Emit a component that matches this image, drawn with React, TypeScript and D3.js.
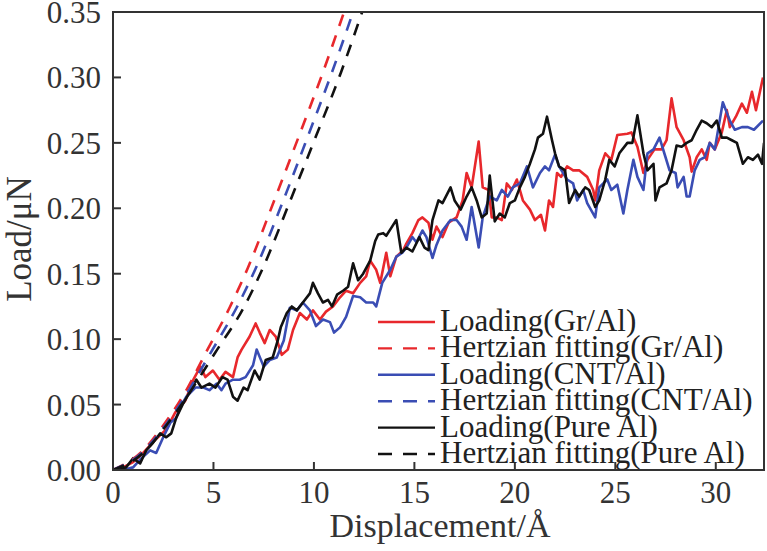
import React from "react";
import * as d3 from "d3";

type Pt = [number, number];

const xTicks = [0, 5, 10, 15, 20, 25, 30];
const yTicks = [0, 0.05, 0.1, 0.15, 0.2, 0.25, 0.3, 0.35];

const loadingGrAl: Pt[] = [
  [0,0],[0.5,0.002],[1.0,0.006],[1.5,0.013],[2.1,0.023],[2.65,0.031],[3.1,0.044],[3.6,0.053],[4.0,0.069],[4.35,0.079],[4.6,0.071],[4.97,0.076],[5.3,0.069],[5.6,0.075],[5.97,0.071],[6.2,0.086],[6.4,0.092],[6.8,0.102],[7.1,0.112],[7.3,0.105],[7.55,0.097],[7.8,0.107],[8.1,0.102],[8.4,0.088],[8.7,0.092],[8.96,0.107],[9.3,0.12],[9.65,0.115],[9.95,0.122],[10.3,0.115],[10.6,0.121],[10.95,0.125],[11.3,0.132],[11.6,0.137],[11.95,0.135],[12.3,0.143],[12.6,0.148],[12.8,0.16],[13.1,0.153],[13.3,0.143],[13.6,0.166],[13.8,0.148],[14.1,0.163],[14.45,0.168],[14.6,0.173],[14.9,0.181],[15.2,0.191],[15.4,0.193],[15.7,0.189],[15.9,0.176],[16.1,0.186],[16.4,0.178],[16.7,0.189],[17.1,0.193],[17.4,0.206],[17.6,0.227],[17.85,0.216],[18.2,0.251],[18.4,0.216],[18.7,0.214],[18.85,0.193],[19.1,0.193],[19.35,0.191],[19.6,0.219],[19.85,0.214],[20.1,0.222],[20.4,0.206],[20.75,0.199],[21.0,0.191],[21.3,0.195],[21.5,0.183],[21.7,0.206],[21.9,0.201],[22.1,0.227],[22.3,0.224],[22.6,0.232],[22.9,0.229],[23.2,0.229],[23.6,0.224],[23.9,0.214],[24.0,0.206],[24.2,0.229],[24.5,0.242],[24.8,0.237],[25.1,0.256],[25.6,0.257],[25.8,0.258],[26.1,0.247],[26.4,0.227],[26.6,0.237],[26.95,0.245],[27.3,0.245],[27.55,0.252],[27.8,0.284],[28.05,0.262],[28.4,0.252],[28.7,0.239],[28.8,0.228],[29.05,0.239],[29.3,0.245],[29.55,0.237],[29.7,0.25],[29.95,0.245],[30.3,0.258],[30.55,0.275],[30.7,0.262],[31.0,0.27],[31.3,0.28],[31.55,0.273],[31.8,0.289],[32.0,0.275],[32.35,0.3]
];

const loadingCntAl: Pt[] = [
  [0,0],[0.5,0],[1.0,0.002],[1.35,0.008],[1.85,0.015],[2.15,0.013],[2.5,0.025],[2.85,0.036],[3.15,0.04],[3.35,0.048],[3.65,0.056],[4.1,0.063],[4.5,0.063],[4.8,0.061],[5.15,0.066],[5.4,0.061],[5.6,0.066],[5.97,0.069],[6.3,0.069],[6.6,0.071],[6.97,0.08],[7.15,0.092],[7.5,0.079],[7.8,0.084],[8.15,0.086],[8.5,0.099],[8.8,0.124],[9.15,0.122],[9.45,0.128],[9.8,0.122],[10.1,0.11],[10.45,0.115],[10.8,0.113],[11.0,0.105],[11.3,0.109],[11.6,0.117],[11.95,0.133],[12.3,0.132],[12.6,0.128],[12.95,0.128],[13.1,0.125],[13.4,0.143],[13.8,0.153],[14.1,0.163],[14.4,0.166],[14.6,0.17],[14.9,0.178],[15.1,0.174],[15.4,0.183],[15.6,0.178],[15.9,0.162],[16.1,0.172],[16.4,0.183],[16.8,0.191],[17.1,0.191],[17.35,0.186],[17.6,0.176],[17.85,0.201],[18.2,0.17],[18.4,0.193],[18.75,0.209],[19.1,0.206],[19.35,0.214],[19.65,0.209],[19.9,0.216],[20.25,0.219],[20.6,0.232],[20.9,0.216],[21.25,0.227],[21.5,0.232],[21.7,0.229],[22.0,0.241],[22.2,0.232],[22.6,0.222],[22.9,0.219],[23.1,0.206],[23.4,0.214],[23.6,0.204],[24.0,0.193],[24.2,0.216],[24.6,0.222],[24.8,0.214],[25.1,0.218],[25.4,0.196],[25.6,0.214],[25.9,0.237],[26.1,0.224],[26.4,0.214],[26.6,0.242],[26.9,0.245],[27.2,0.254],[27.5,0.239],[27.7,0.229],[28.0,0.227],[28.1,0.216],[28.4,0.224],[28.55,0.209],[28.7,0.209],[28.95,0.229],[29.2,0.237],[29.45,0.239],[29.7,0.25],[29.95,0.245],[30.35,0.281],[30.7,0.267],[30.95,0.26],[31.3,0.262],[31.6,0.262],[31.9,0.26],[32.35,0.267]
];

const loadingPureAl: Pt[] = [
  [0,0],[0.65,0.002],[1.0,0.009],[1.35,0.005],[1.65,0.015],[2.0,0.021],[2.35,0.028],[2.65,0.025],[2.9,0.028],[3.15,0.04],[3.5,0.051],[3.8,0.059],[4.15,0.069],[4.4,0.063],[4.8,0.066],[5.1,0.063],[5.45,0.071],[5.7,0.069],[5.97,0.056],[6.2,0.053],[6.5,0.063],[6.7,0.061],[7.05,0.076],[7.3,0.069],[7.6,0.084],[7.95,0.086],[8.2,0.099],[8.35,0.109],[8.65,0.12],[8.9,0.125],[9.15,0.122],[9.45,0.128],[9.8,0.135],[9.95,0.143],[10.2,0.135],[10.45,0.128],[10.7,0.13],[10.9,0.125],[11.15,0.134],[11.45,0.137],[11.7,0.14],[11.95,0.158],[12.2,0.145],[12.45,0.15],[12.8,0.16],[13.05,0.175],[13.2,0.18],[13.45,0.181],[13.6,0.179],[13.85,0.185],[14.1,0.191],[14.35,0.166],[14.6,0.17],[14.9,0.167],[15.25,0.178],[15.5,0.17],[15.7,0.168],[15.9,0.191],[16.2,0.206],[16.4,0.204],[16.8,0.216],[17.0,0.206],[17.3,0.199],[17.6,0.209],[17.85,0.216],[18.1,0.206],[18.35,0.193],[18.6,0.196],[18.75,0.225],[19.0,0.19],[19.25,0.196],[19.5,0.193],[19.75,0.204],[20.0,0.206],[20.25,0.216],[20.5,0.224],[20.75,0.234],[21.0,0.245],[21.15,0.254],[21.4,0.257],[21.6,0.27],[21.85,0.252],[22.0,0.242],[22.2,0.232],[22.5,0.229],[22.7,0.204],[23.0,0.214],[23.2,0.209],[23.5,0.216],[23.7,0.214],[24.0,0.201],[24.2,0.206],[24.5,0.222],[24.7,0.237],[24.97,0.232],[25.2,0.242],[25.6,0.25],[25.85,0.25],[26.1,0.271],[26.4,0.242],[26.6,0.229],[26.9,0.234],[27.0,0.206],[27.2,0.216],[27.55,0.219],[27.8,0.229],[28.05,0.248],[28.3,0.247],[28.55,0.25],[28.8,0.252],[29.05,0.26],[29.3,0.267],[29.55,0.265],[29.8,0.262],[30.05,0.267],[30.3,0.254],[30.55,0.254],[30.8,0.252],[31.05,0.25],[31.35,0.234],[31.6,0.239],[31.85,0.237],[32.1,0.241],[32.3,0.234],[32.4,0.25]
];

const hertzGrAl: Pt[] = [
  [0,0],[1.5,0.015],[2.5,0.034],[3.5,0.057],[4.6,0.089],[5.8,0.124],[6.7,0.154],[8.0,0.205],[9.25,0.255],[10.45,0.304],[11.5,0.35]
];
const hertzCntAl: Pt[] = [
  [0,0],[1.5,0.014],[2.5,0.032],[3.5,0.054],[4.8,0.088],[6.15,0.124],[7.1,0.154],[8.45,0.205],[9.7,0.255],[10.9,0.304],[11.95,0.35]
];
const hertzPureAl: Pt[] = [
  [0,0],[1.5,0.013],[2.5,0.031],[3.5,0.052],[5.1,0.09],[6.5,0.124],[7.45,0.154],[8.8,0.205],[10.1,0.255],[11.35,0.304],[12.4,0.35]
];

const RED = "#e8282c";
const BLUE = "#3a4db4";
const BLACK = "#111111";

const seriesList = [
  { label: "Loading(Gr/Al)", data: loadingGrAl, color: RED, dashed: false },
  { label: "Hertzian fitting(Gr/Al)", data: hertzGrAl, color: RED, dashed: true },
  { label: "Loading(CNT/Al)", data: loadingCntAl, color: BLUE, dashed: false },
  { label: "Hertzian fitting(CNT/Al)", data: hertzCntAl, color: BLUE, dashed: true },
  { label: "Loading(Pure Al)", data: loadingPureAl, color: BLACK, dashed: false },
  { label: "Hertzian fitting(Pure Al)", data: hertzPureAl, color: BLACK, dashed: true },
];

const W = 767;
const H = 551;
const M = { left: 113, right: 764, top: 12, bottom: 470 };
const FONT = "'Liberation Serif', 'Times New Roman', serif";

export default function App() {
  const x = d3.scaleLinear().domain([0, 32.4]).range([M.left, M.right]);
  const y = d3.scaleLinear().domain([0, 0.35]).range([M.bottom, M.top]);
  const solid = d3.line<Pt>().x((d) => x(d[0])).y((d) => y(d[1]));
  const smooth = d3
    .line<Pt>()
    .x((d) => x(d[0]))
    .y((d) => y(d[1]))
    .curve(d3.curveMonotoneX);

  const drawOrder = [0, 2, 4, 1, 3, 5];
  const legendX1 = 378;
  const legendX2 = 435;
  const legendY0 = 322;
  const legendStep = 26.4;

  return (
    <svg
      width={W}
      height={H}
      style={{ position: "absolute", left: 0, top: 0, background: "#fff" }}
      fontFamily={FONT}
    >
      <defs>
        <clipPath id="plot">
          <rect x={M.left} y={M.top} width={M.right - M.left} height={M.bottom - M.top} />
        </clipPath>
      </defs>
      <g clipPath="url(#plot)">
        {drawOrder.map((i) => {
          const s = seriesList[i];
          return (
            <path
              key={s.label}
              d={(s.dashed ? smooth(s.data) : solid(s.data)) || ""}
              fill="none"
              stroke={s.color}
              strokeWidth={2.6}
              strokeDasharray={s.dashed ? "12 10" : undefined}
              strokeLinejoin="round"
            />
          );
        })}
      </g>
      <rect
        x={M.left}
        y={M.top}
        width={M.right - M.left}
        height={M.bottom - M.top}
        fill="none"
        stroke="#333"
        strokeWidth={2}
      />
      {yTicks.map((t) => (
        <g key={"y" + t}>
          <line x1={M.left} x2={M.left + 8} y1={y(t)} y2={y(t)} stroke="#333" strokeWidth={2} />
          <text x={101} y={y(t) + 11} textAnchor="end" fontSize={31} fill="#333">
            {t.toFixed(2)}
          </text>
        </g>
      ))}
      {xTicks.map((t) => (
        <g key={"x" + t}>
          <line x1={x(t)} x2={x(t)} y1={M.bottom} y2={M.bottom - 8} stroke="#333" strokeWidth={2} />
          <text x={x(t)} y={503} textAnchor="middle" fontSize={31} fill="#333">
            {t}
          </text>
        </g>
      ))}
      <text x={440} y={537} textAnchor="middle" fontSize={34} fill="#333">
        Displacement/Å
      </text>
      <text
        transform={`translate(31, 239) rotate(-90)`}
        textAnchor="middle"
        fontSize={35}
        fill="#333"
      >
        Load/μN
      </text>
      {seriesList.map((s, i) => {
        const ly = legendY0 + i * legendStep;
        return (
          <g key={"lg" + i}>
            <line
              x1={legendX1}
              x2={legendX2}
              y1={ly}
              y2={ly}
              stroke={s.color}
              strokeWidth={2.4}
              strokeDasharray={s.dashed ? "14 11" : undefined}
            />
            <text x={440} y={ly + 9} fontSize={31} fill="#222">
              {s.label}
            </text>
          </g>
        );
      })}
    </svg>
  );
}
